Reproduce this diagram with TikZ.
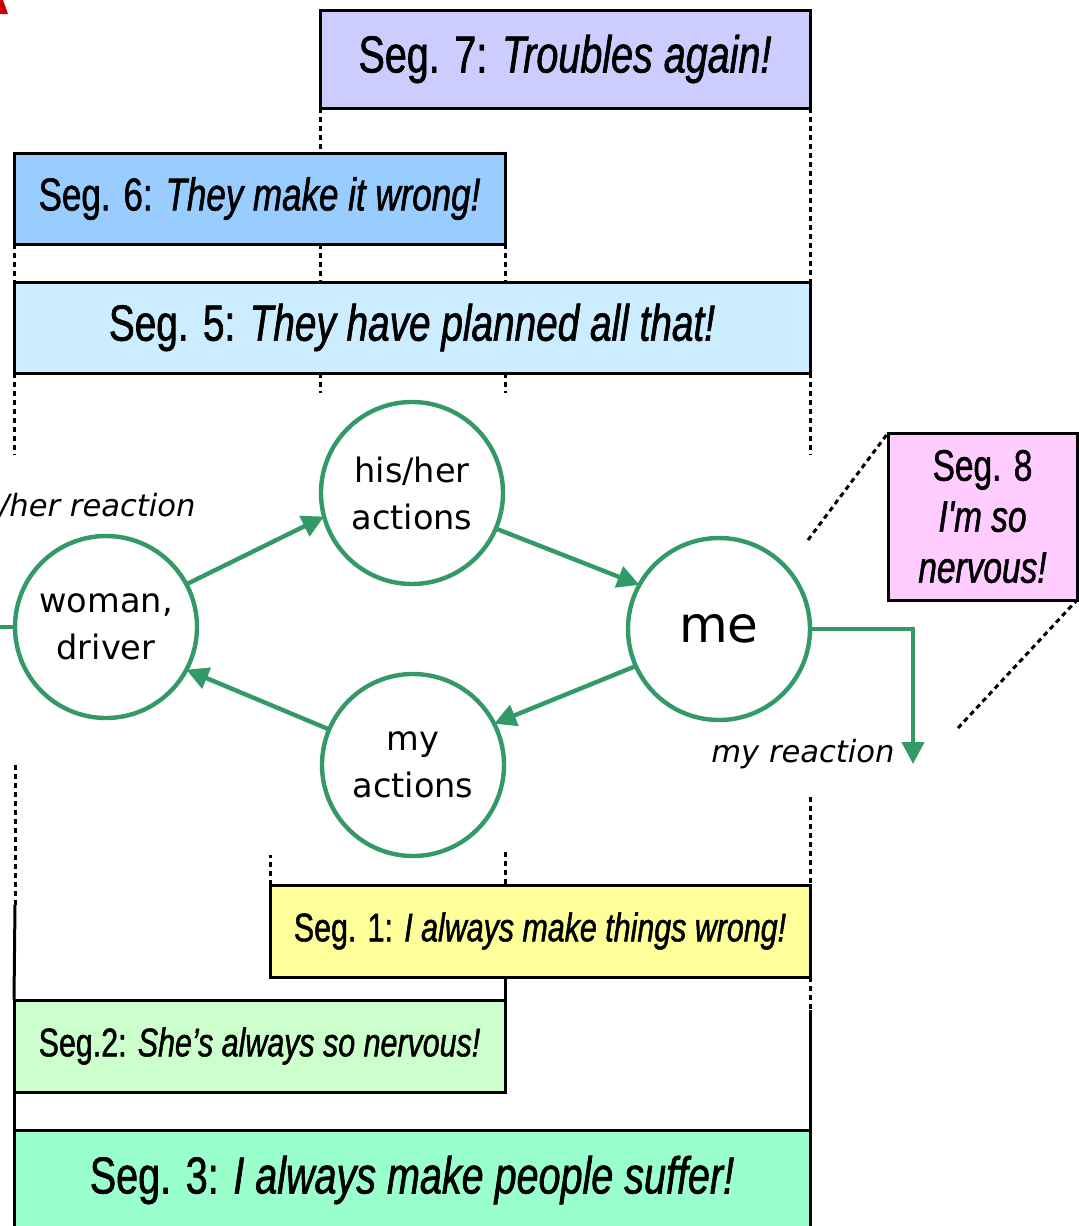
\documentclass[tikz,border=0pt]{standalone}
\usepackage{fontspec}
\setmainfont{DejaVu Sans}
\newfontfamily\segfont[FakeStretch=0.76,FakeBold=1.2]{Liberation Sans}
\usetikzlibrary{arrows.meta}

\definecolor{relgreen}{HTML}{339966}
\definecolor{segseven}{HTML}{CCCCFF}
\definecolor{segsix}{HTML}{99CCFF}
\definecolor{segfive}{HTML}{CCECFF}
\definecolor{segeight}{HTML}{FFCCFF}
\definecolor{segone}{HTML}{FFFF99}
\definecolor{segtwo}{HTML}{CCFFCC}
\definecolor{segthree}{HTML}{99FFCC}
\definecolor{markred}{HTML}{CC0000}

\tikzset{
  segbox/.style={draw=black, line width=1.5pt, inner sep=0pt, outer sep=0pt, align=center},
  segsize/.style={font=\segfont\fontsize{#1}{#1*1.16}\selectfont},
  actor/.style={circle, draw=relgreen, line width=2.2pt, fill=white, minimum size=91pt,
    inner sep=0pt, outer sep=0pt, align=center,
    font=\fontsize{16.8}{23.5}\selectfont},
  rel/.style={draw=relgreen, line width=2.2pt, -{Triangle[length=11pt,width=11pt]}},
  plain/.style={draw=relgreen, line width=2.2pt},
  guide/.style={draw=black, line width=1.5pt, dash pattern=on 2.5pt off 2pt},
  solidguide/.style={draw=black, line width=1.5pt},
  reaction/.style={font=\fontsize{15.3}{18}\selectfont\itshape, inner sep=0pt}
}

\begin{document}
\begin{tikzpicture}[x=0.5pt,y=-0.5pt]
\useasboundingbox (0,0) rectangle (1079,1226);
\clip (0,0) rectangle (1079,1226);

% corner mark
\fill[markred] (0,0) -- (3,0) -- (8,14) -- (0,14) -- cycle;

% segment boxes
\node[segbox, fill=segseven, minimum width=245pt, minimum height=49pt,
  font=\segfont\fontsize{26}{30}\selectfont] (s7) at (565,59)
  {Seg. 7: \textit{Troubles again!}};
\node[segbox, fill=segsix, minimum width=245.5pt, minimum height=45.5pt,
  font=\segfont\fontsize{23}{27}\selectfont] (s6) at (259.5,198.5)
  {Seg. 6: \textit{They make it wrong!}};
\node[segbox, fill=segfive, minimum width=398pt, minimum height=45.5pt,
  font=\segfont\fontsize{25.5}{30}\selectfont] (s5) at (412,327.5)
  {Seg. 5: \textit{They have planned all that!}};
\node[segbox, fill=segeight, minimum width=94.5pt, minimum height=83.5pt,
  font=\segfont\fontsize{22}{25.5}\selectfont] (s8) at (982.5,516.5)
  {Seg. 8\\ \textit{I'm so}\\ \textit{nervous!}};
\node[segbox, fill=segone, minimum width=270pt, minimum height=46pt,
  font=\segfont\fontsize{20}{24}\selectfont] (s1) at (540,931)
  {Seg. 1: \textit{I always make things wrong!}};
\node[segbox, fill=segtwo, minimum width=245.5pt, minimum height=46pt,
  font=\segfont\fontsize{20}{24}\selectfont] (s2) at (259.5,1046)
  {Seg.2: \textit{She’s always so nervous!}};
\node[segbox, fill=segthree, minimum width=398pt, minimum height=50pt,
  font=\segfont\fontsize{26}{30}\selectfont] (s3) at (412,1180)
  {Seg. 3: \textit{I always make people suffer!}};

% guide lines, left column
\draw[guide] (s6.south west) -- (s5.north west);
\draw[guide] (s5.south west) -- ++(0,82);
\coordinate (lowleft) at (15,905);
\draw[guide] (15,765) -- (lowleft);
\draw[solidguide] (lowleft) -- (s2.north west);
\draw[solidguide] (s2.south west) -- (s3.north west);

% guide lines at x = 320
\draw[guide] (s7.south west) -- (s7.south west |- s6.north);
\draw[guide] (s7.south west |- s6.south) -- (s7.south west |- s5.north);
\draw[guide] (s7.south west |- s5.south) -- ++(0,20);

% guide lines at x = 505
\draw[guide] (s6.south east) -- (s6.south east |- s5.north);
\draw[guide] (s6.south east |- s5.south) -- ++(0,20);
\draw[guide] (505,852) -- (s2.north east |- s1.north);
\draw[solidguide] (s2.north east |- s1.south) -- (s2.north east);

% guide lines at x = 270
\draw[guide] (s1.north west) -- ++(0,-30);

% guide lines at x = 810
\draw[guide] (s7.south east) -- (s5.north east);
\draw[guide] (s5.south east) -- ++(0,82);
\draw[guide] (810,797) -- (s1.north east);
\coordinate (lowright) at (810,1010);
\draw[guide] (s1.south east) -- (lowright);
\draw[solidguide] (lowright) -- (s3.north east);

% links to segment 8
\draw[guide] (808,540) -- (s8.north west);
\draw[guide] (958,728) -- (s8.south east);

% actors
\node[actor] (w) at (106,627) {woman,\\driver};
\node[actor] (h) at (412,493) {his/her\\actions};
\node[actor] (m) at (413,765) {my\\actions};
\node[actor, font=\fontsize{25}{30}\selectfont] (me) at (719,629) {me};

% feedback loop
\draw[rel] (w.28) -- (h.195);
\draw[rel] (h.337) -- (me.151);
\draw[rel] (me.204) -- (m.27);
\draw[rel] (m.157) -- (w.332);

% incoming and outgoing reactions
\draw[plain] (0,627) -- (w.west);
\coordinate (turn) at (913,629);
\draw[rel] (me.east) -- (turn) -- (913,764);

\node[reaction, anchor=east] (hr) at (196,506) {his/her reaction};
\node[reaction] (mr) at (803,754) {my reaction};
\end{tikzpicture}
\end{document}
